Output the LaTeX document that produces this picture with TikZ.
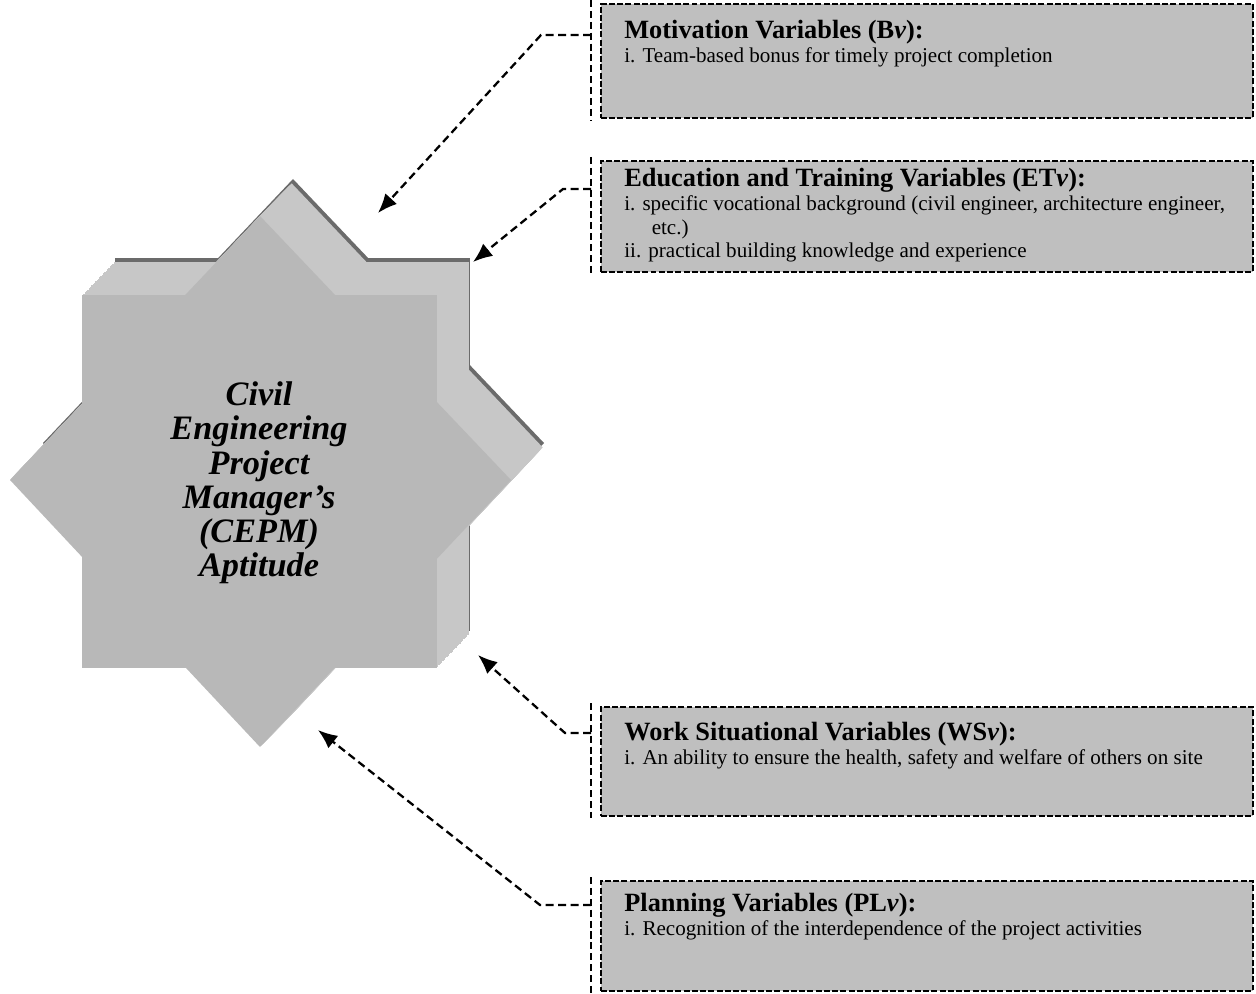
\documentclass[tikz,border=0pt]{standalone}
\usepackage{fontspec}
\setmainfont{Liberation Serif}
\usetikzlibrary{arrows.meta}

\definecolor{boxgray}{gray}{0.75}
\definecolor{stargray}{gray}{0.72}
\definecolor{sidegray}{gray}{0.78}
\definecolor{rimgray}{gray}{0.42}

\tikzset{
  varbox/.style={rectangle, fill=boxgray, draw=black, line width=1.1pt,
    dash pattern=on 3.4pt off 1.3pt, inner sep=0pt, anchor=north west},
  boxedge/.style={draw=black, line width=1.1pt, dash pattern=on 4pt off 2.2pt},
  link/.style={draw=black, line width=1.3pt, dash pattern=on 4.5pt off 2.6pt,
    -{Latex[length=11pt,width=9pt]}},
  vartext/.style={anchor=north west, inner sep=0pt, align=left,
    font=\fontsize{12}{13.5}\selectfont},
  startext/.style={align=center, inner sep=0pt,
    font=\fontsize{19.5}{19.5}\selectfont\bfseries\itshape},
}

% square + diamond, filled with the given options
\newcommand{\cepmstar}[1]{%
  \fill[#1] (82,295) rectangle (437,668);
  \fill[#1] (260,216) -- (511,480) -- (260,747) -- (10,480) -- cycle;}

\newcommand{\vhead}[1]{{\fontsize{15}{15}\selectfont\bfseries #1}}

\begin{document}
\begin{tikzpicture}[x=0.02cm, y=-0.02cm]
  \useasboundingbox (0,0) rectangle (1256,993);

  %% the star, extruded up and to the right
  \cepmstar{rimgray, shift={(33,-37)}}
  \foreach \s in {0.04,0.08,...,1.0}
    {\cepmstar{sidegray, shift={(\s*33,-\s*34)}}}
  \cepmstar{stargray}
  \node[startext] (cepm) at (259,483)
    {Civil\\Engineering\\Project\\Manager’s\\(CEPM)\\Aptitude};

  %% variable boxes
  \node[varbox, minimum width=13.04cm, minimum height=2.28cm] (mot) at (600,3) {};
  \node[varbox, minimum width=13.04cm, minimum height=2.22cm] (edu) at (600,160) {};
  \node[varbox, minimum width=13.04cm, minimum height=2.18cm] (work) at (600,706) {};
  \node[varbox, minimum width=13.04cm, minimum height=2.20cm] (plan) at (600,880) {};

  \draw[boxedge] (591,0) -- (591,120);
  \draw[boxedge] (591,157) -- (591,274);
  \draw[boxedge] (591,703) -- (591,818);
  \draw[boxedge] (591,877) -- (591,993);

  %% box texts
  \node[vartext] (motlabel) at (624,20)
    {\vhead{Motivation Variables (B\textit{v}):}\\
     i. Team-based bonus for timely project completion};
  \node[vartext] (edulabel) at (624,168)
    {\vhead{Education and Training Variables (ET\textit{v}):}\\
     i. specific vocational background (civil engineer, architecture engineer,\\
     \hspace*{1.3em}etc.)\\
     ii. practical building knowledge and experience};
  \node[vartext] (worklabel) at (624,722)
    {\vhead{Work Situational Variables (WS\textit{v}):}\\
     i. An ability to ensure the health, safety and welfare of others on site};
  \node[vartext] (planlabel) at (624,893)
    {\vhead{Planning Variables (PL\textit{v}):}\\
     i. Recognition of the interdependence of the project activities};

  %% connectors
  \coordinate (motout) at (591,35);   \coordinate (motbend) at (541,35);
  \coordinate (eduout) at (591,189);  \coordinate (edubend) at (563,189);
  \coordinate (workout) at (591,733); \coordinate (workbend) at (565,733);
  \coordinate (planout) at (591,905); \coordinate (planbend) at (540,905);

  \coordinate (motin) at (378,213);
  \coordinate (eduin) at (473,262);
  \coordinate (workin) at (478,655);
  \coordinate (planin) at (318,730);

  \draw[link] (motout) -- (motbend) -- (motin);
  \draw[link] (eduout) -- (edubend) -- (eduin);
  \draw[link] (workout) -- (workbend) -- (workin);
  \draw[link] (planout) -- (planbend) -- (planin);

\end{tikzpicture}
\end{document}
